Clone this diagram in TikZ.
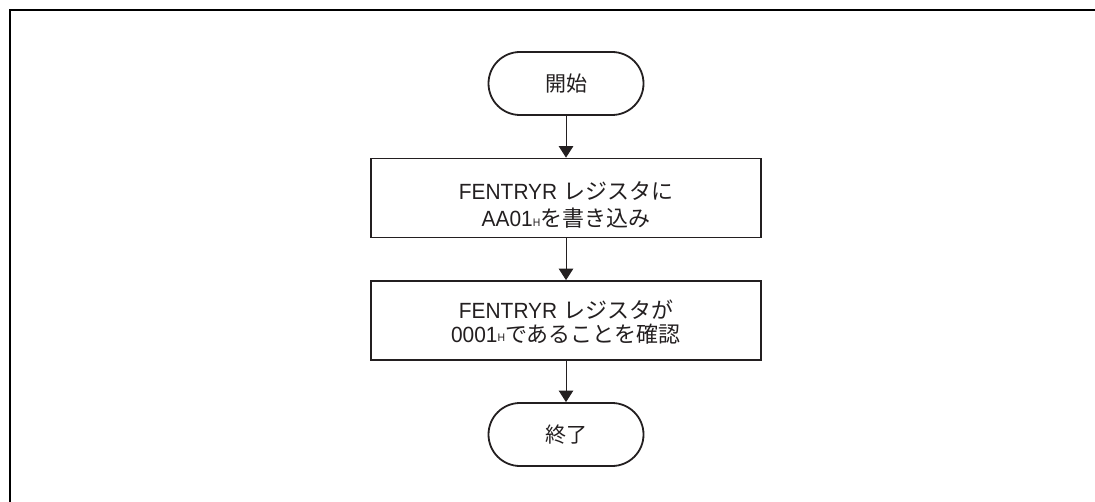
\documentclass[tikz,border=0pt]{standalone}
\usepackage{fontspec}
\setmainfont{Liberation Sans}
\newfontfamily\lat[FakeStretch=0.95]{Liberation Sans}
\newfontfamily\jp{Noto Sans CJK JP}
\usetikzlibrary{arrows.meta,shapes.misc}
\definecolor{ink}{HTML}{231F20}
\begin{document}
\begin{tikzpicture}[x=0.5pt,y=-0.5pt,
  term/.style={rounded rectangle, draw=ink, line width=0.9pt, minimum width=77.5pt, minimum height=31.5pt, inner sep=0pt, text=ink, font=\fontsize{10.5}{12}\selectfont\jp},
  stepbox/.style={draw=ink, line width=0.85pt, minimum width=195pt, minimum height=39.5pt, inner sep=0pt},
  txt/.style={anchor=base, inner sep=0pt, text=ink, font=\fontsize{11}{12}\selectfont},
  flow/.style={draw=ink, line width=0.5pt, -{Triangle[length=5.8pt,width=7.3pt]}}]
\useasboundingbox (0,0) rectangle (1095,502);
\draw[line width=1pt,black] (10,502) -- (10,10) -- (1095,10);
\node[term] (start) at (566,83.5) {開始};
\node[stepbox] (b1) at (566,198) {};
\node[stepbox] (b2) at (566,320.5) {};
\node[term] (end) at (566,434.5) {終了};
\node[txt] (b1a) at (566,199) {\lat FENTRYR \jp\fontsize{11}{12}\selectfont レジスタに};
\node[txt] (b1b) at (566,227) {\lat AA01\raisebox{0.3pt}{\fontsize{5.5}{5}\selectfont H}\jp\fontsize{11}{12}\selectfont を書き込み};
\node[txt] (b2a) at (566,318) {\lat FENTRYR \jp\fontsize{11}{12}\selectfont レジスタが};
\node[txt] (b2b) at (566,342) {\lat 0001\raisebox{0.3pt}{\fontsize{5.5}{5}\selectfont H}\jp\fontsize{11}{12}\selectfont であることを確認};
\draw[flow] (start.south) -- (b1.north);
\draw[flow] (b1.south) -- (b2.north);
\draw[flow] (b2.south) -- (end.north);
\end{tikzpicture}
\end{document}
